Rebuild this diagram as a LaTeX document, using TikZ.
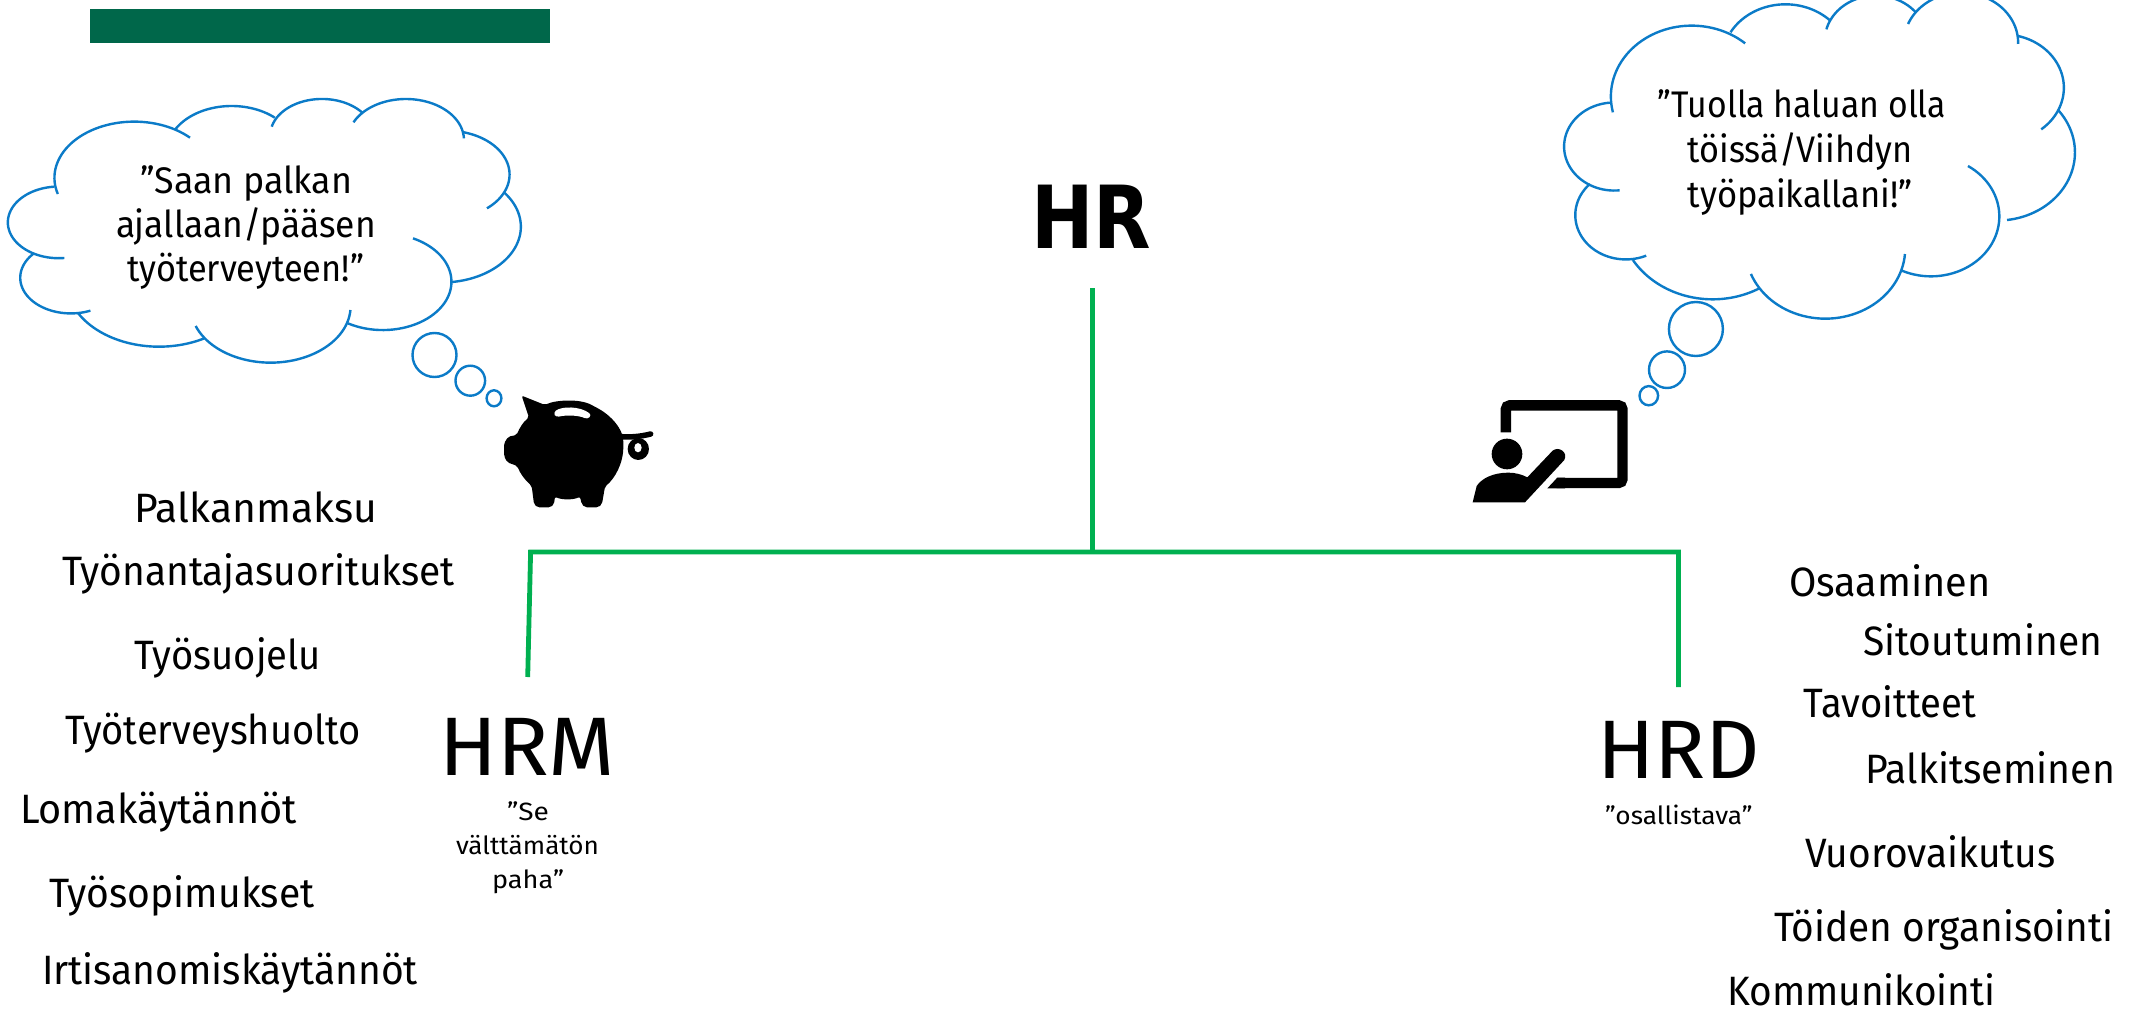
\documentclass[tikz,border=0pt]{standalone}
\usepackage{graphicx}
\usepackage{fontspec}
\setmainfont{Fira Sans}
\newfontfamily\hrfont{DejaVu Sans}
\definecolor{cloudblue}{HTML}{0B7BC8}
\definecolor{linegreen}{HTML}{00B050}
\definecolor{bargreen}{HTML}{00674A}
\tikzset{
  cloudline/.style={draw=cloudblue,line width=2.4pt},
  linkline/.style={draw=linegreen,line width=4.8pt},
  txt/.style={anchor=base west,inner sep=0pt,outer sep=0pt,text=black},
}
% text fitted to measured extents
\newcommand{\tx}[6]{%
  \pgfmathsetmacro{\tw}{#3-#2+2}%
  \pgfmathsetmacro{\tl}{#2-1}%
  \node[txt] (#1) at (\tl,#4) {\resizebox{\tw pt}{\height}{\fontsize{#5}{#5}\selectfont #6}};}
% elliptical arc through three points given in zoom-crop coordinates
\newcommand{\cloudarc}[6]{%
  \pgfmathsetmacro{\Xa}{(\ox+#1/\sx)/\kk}\pgfmathsetmacro{\Ya}{\oy+#2/3}%
  \pgfmathsetmacro{\Xb}{(\ox+#3/\sx)/\kk}\pgfmathsetmacro{\Yb}{\oy+#4/3}%
  \pgfmathsetmacro{\Xc}{(\ox+#5/\sx)/\kk}\pgfmathsetmacro{\Yc}{\oy+#6/3}%
  \pgfmathsetmacro{\bx}{(\Xb-\Xa)/100}\pgfmathsetmacro{\by}{(\Yb-\Ya)/100}%
  \pgfmathsetmacro{\cx}{(\Xc-\Xa)/100}\pgfmathsetmacro{\cy}{(\Yc-\Ya)/100}%
  \pgfmathsetmacro{\DD}{2*(\bx*\cy-\by*\cx)}%
  \pgfmathsetmacro{\bb}{\bx*\bx+\by*\by}\pgfmathsetmacro{\cc}{\cx*\cx+\cy*\cy}%
  \pgfmathsetmacro{\ux}{(\cy*\bb-\by*\cc)/\DD}\pgfmathsetmacro{\uy}{(\bx*\cc-\cx*\bb)/\DD}%
  \pgfmathsetmacro{\Cx}{\Xa+100*\ux}\pgfmathsetmacro{\Cy}{\Ya+100*\uy}%
  \pgfmathsetmacro{\Rr}{100*sqrt(\ux*\ux+\uy*\uy)}%
  \pgfmathsetmacro{\Aa}{atan2(\Ya-\Cy,\Xa-\Cx)}%
  \pgfmathsetmacro{\Ac}{atan2(\Yc-\Cy,\Xc-\Cx)}%
  \pgfmathsetmacro{\Ae}{\Ac<\Aa?\Ac+360:\Ac}%
  \draw[cloudline] plot[domain=\Aa:\Ae,samples=48] ({\kk*(\Cx+\Rr*cos(\x))},{\Cy+\Rr*sin(\x)});}
\begin{document}
\begin{tikzpicture}[x=1pt,y=-1pt]
\useasboundingbox (0,0) rectangle (2146,1016);
\clip (0,0) rectangle (2146,1016);
\fill[white] (0,0) rectangle (2146,1016);
\fill[bargreen] (90,9) rectangle (550,42.7);

% left cloud
\def\ox{0}\def\oy{80}\def\sx{2.3}\def\kk{1.42}
\cloudarc{133}{342}{170}{183}{437}{173}
\cloudarc{402}{150}{530}{78}{632}{113}
\cloudarc{625}{140}{735}{57}{835}{100}
\cloudarc{813}{127}{935}{57}{1067}{175}
\cloudarc{1067}{157}{1172}{285}{1120}{385}
\cloudarc{1160}{338}{1198}{440}{1040}{606}
\cloudarc{950}{475}{1000}{700}{800}{730}
\cloudarc{806}{690}{625}{848}{450}{738}
\cloudarc{470}{775}{360}{800}{180}{700}
\cloudarc{208}{692}{72}{660}{78}{520}
\cloudarc{148}{534}{18}{428}{125}{320}
\draw[cloudline] (434.5,355) ellipse (22 and 22);
\draw[cloudline] (470.3,380.7) ellipse (14.8 and 15);
\draw[cloudline] (494,398.3) ellipse (7.4 and 8);

% right cloud
\def\ox{1450}\def\oy{0}\def\sx{2.253}\def\kk{1.14}
\cloudarc{367}{337}{415}{140}{665}{130}
\cloudarc{632}{97}{752}{13}{855}{60}
\cloudarc{848}{88}{945}{-12}{1050}{38}
\cloudarc{1032}{72}{1150}{-22}{1280}{132}
\cloudarc{1280}{108}{1383}{265}{1332}{388}
\cloudarc{1370}{330}{1408}{455}{1255}{660}
\cloudarc{1167}{498}{1205}{760}{1018}{812}
\cloudarc{1025}{762}{848}{956}{678}{822}
\cloudarc{697}{865}{590}{898}{412}{780}
\cloudarc{442}{767}{312}{735}{315}{552}
\cloudarc{382}{571}{257}{440}{360}{308}
\draw[cloudline] (1695.9,329) ellipse (27 and 27);
\draw[cloudline] (1667,369.7) ellipse (18 and 18.3);
\draw[cloudline] (1648.8,395.7) ellipse (9.3 and 9.6);

% piggy bank
\begin{scope}[shift={(480,380)},x=0.3333pt,y=-0.3333pt]
\fill[black,rounded corners=2pt] (125,47) -- (195,75) .. controls (225,60) and (300,55) .. (340,78)
  .. controls (395,105) and (432,150) .. (430,195) .. controls (430,250) and (405,295) .. (375,320)
  -- (366,372) -- (355,382) -- (315,382) -- (305,372) -- (300,350) .. controls (280,360) and (245,360) .. (225,350)
  -- (222,372) -- (212,382) -- (172,382) -- (162,372) -- (155,318) .. controls (135,300) and (120,280) .. (112,258)
  -- (82,247) -- (72,228) -- (72,190) -- (85,170) -- (110,165) .. controls (118,145) and (130,125) .. (147,113) -- cycle;
\fill[white,rounded corners=3pt] (220,98) .. controls (245,78) and (300,78) .. (335,105) -- (322,118)
  .. controls (295,105) and (255,105) .. (228,112) -- cycle;
\draw[black,line width=5.5pt,line cap=round] (425,170) .. controls (450,172) and (480,170) .. (512,162);
\fill[black] (475,207) ellipse (32 and 33);
\fill[white] (474,203) ellipse (11 and 14);
\end{scope}

% teacher at a board
\begin{scope}[shift={(1450,380)},x=0.3333pt,y=-0.3333pt]
\draw[black,line width=10.4pt,rounded corners=4pt] (167.5,157) -- (167.5,76) -- (517.5,76) -- (517.5,309) -- (320,309);
\fill[black] (292,325) -- (322,293) -- (345,293) -- (345,325) -- cycle;
\fill[black] (171,222) circle (46);
\fill[black] (68,367) -- (80,318) .. controls (95,295) and (130,278) .. (175,278)
  .. controls (195,278) and (215,283) .. (232,292) -- (308,212)
  .. controls (325,198) and (355,215) .. (343,240) -- (225,367) -- cycle;
\end{scope}

% titles
\node[txt] (hr) at (1031,248.3) {\resizebox{120pt}{\height}{\hrfont\bfseries\fontsize{87}{87}\selectfont HR}};
\node[txt] (hrm) at (439,775) {\resizebox{176pt}{\height}{\fontsize{83}{83}\selectfont HRM}};
\node[txt] (hrd) at (1597,778.5) {\resizebox{163pt}{\height}{\fontsize{83}{83}\selectfont HRD}};
\tx{se}{508}{548}{820.7}{25}{”Se}
\tx{valt}{457}{598}{854.3}{25}{välttämätön}
\tx{paha}{493}{563}{888.2}{25}{paha”}
\tx{osal}{1606}{1751.5}{824}{25}{”osallistava”}

% connectors
\coordinate (hrtail) at (1092.3,288.3);
\coordinate (join) at (1092.3,552);
\coordinate (leftcorner) at (530.6,552);
\coordinate (rightcorner) at (1678.5,552);
\coordinate (hrmend) at (527.7,677);
\coordinate (hrdend) at (1678.5,687);
\draw[linkline] (hrtail) -- (join);
\draw[linkline,line join=miter] (hrmend) -- (leftcorner) -- (rightcorner) -- (hrdend);

% thought texts
\tx{ca}{141}{351}{193.3}{37}{”Saan palkan}
\tx{cb}{117}{375}{237.3}{37}{ajallaan/pääsen}
\tx{cc}{128}{363}{281.7}{37}{työterveyteen!”}
\tx{da}{1658.6}{1945}{117.3}{37}{”Tuolla haluan olla}
\tx{db}{1688.8}{1911.6}{162.3}{37}{töissä/Viihdyn}
\tx{dc}{1688.8}{1911.6}{207.3}{37}{työpaikallani!”}

% left list
\tx{l1}{135.5}{376}{522.8}{41}{Palkanmaksu}
\tx{l2}{63}{454}{585.5}{41}{Työnantajasuoritukset}
\tx{l3}{135.5}{320}{669}{41}{Työsuojelu}
\tx{l4}{66}{360}{744.7}{41}{Työterveyshuolto}
\tx{l5}{21}{296}{823.5}{41}{Lomakäytännöt}
\tx{l6}{50}{313.5}{907}{41}{Työsopimukset}
\tx{l7}{43}{417}{984}{41}{Irtisanomiskäytännöt}

% right list
\tx{r1}{1790}{1989.7}{596.7}{41}{Osaaminen}
\tx{r2}{1864}{2101}{655}{41}{Sitoutuminen}
\tx{r3}{1804.5}{1975}{717.7}{41}{Tavoitteet}
\tx{r4}{1866}{2114}{783.3}{41}{Palkitseminen}
\tx{r5}{1806}{2054.7}{867.3}{41}{Vuorovaikutus}
\tx{r6}{1775}{2112.5}{941.7}{41}{Töiden organisointi}
\tx{r7}{1728}{1994.5}{1005}{41}{Kommunikointi}
\end{tikzpicture}
\end{document}
